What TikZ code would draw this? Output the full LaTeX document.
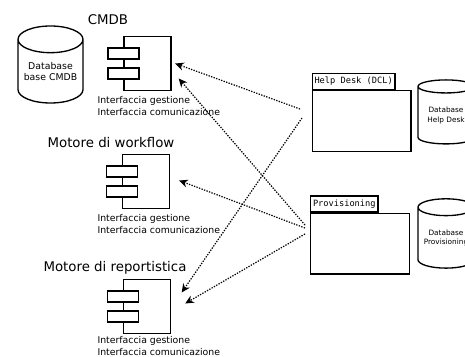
\documentclass[tikz,border=0pt]{standalone}
\usepackage{fontspec}
\setmainfont{DejaVu Sans}
\setmonofont{DejaVu Sans Mono}
\usetikzlibrary{shapes.geometric,arrows.meta}

\tikzset{every picture/.style={line width=0.75pt}}
\tikzset{
  comp/.style={draw, line width=1pt, minimum width=35.25pt, minimum height=40.5pt, inner sep=0pt},
  port/.style={draw, fill=white, line width=1pt, minimum width=23.25pt, minimum height=8.25pt, inner sep=0pt},
  db/.style={cylinder, shape border rotate=90, draw, line width=1pt, align=center, inner sep=0pt},
  pkg/.style={draw, line width=1pt, minimum width=74pt, minimum height=45.5pt, inner sep=0pt},
  tab/.style={draw, line width=1pt, anchor=south west, font=\ttfamily\fontsize{6.5}{7}\selectfont, inner xsep=1.75pt, inner ysep=0pt, minimum height=12pt},
  title/.style={font=\fontsize{10}{12}\selectfont, inner sep=0pt},
  iface/.style={anchor=west, align=left, font=\fontsize{7}{9}\selectfont, inner sep=0pt},
  link/.style={line width=0.9pt, dash pattern=on 1pt off 1pt, -{Stealth[length=6.5pt,width=6pt]}}
}

\begin{document}
\begin{tikzpicture}[x=0.75pt,y=0.75pt,yscale=-1,xscale=1]
        \clip (0,0) rectangle (465,357);

        % CMDB
        \node[title] (tcmdb) at (108,20) {CMDB};
        \node[db, minimum width=48.75pt, minimum height=57.75pt, aspect=0.5, font=\fontsize{7}{8.5}\selectfont] (dbcmdb) at (50.5,71.5) {Database\\base CMDB};
        \node[comp] (cmdb) at (147.5,63.5) {};
        \node[port] (cmdbp1) at ([yshift=7.5pt]cmdb.west) {};
        \node[port] (cmdbp2) at ([yshift=-7.5pt]cmdb.west) {};
        \node[iface] (icmdb) at (97,106) {Interfaccia gestione\\Interfaccia comunicazione};

        % Motore di workflow
        \node[title] (twf) at (111,143) {Motore di workflow};
        \node[comp] (wf) at (146,181.5) {};
        \node[port] (wfp1) at ([yshift=7.5pt]wf.west) {};
        \node[port] (wfp2) at ([yshift=-7.5pt]wf.west) {};
        \node[iface] (iwf) at (97,224.5) {Interfaccia gestione\\Interfaccia comunicazione};

        % Motore di reportistica
        \node[title] (trep) at (115,268) {Motore di reportistica};
        \node[comp] (rep) at (147,306.5) {};
        \node[port] (repp1) at ([yshift=7.5pt]rep.west) {};
        \node[port] (repp2) at ([yshift=-7.5pt]rep.west) {};
        \node[iface] (irep) at (97,346) {Interfaccia gestione\\Interfaccia comunicazione};

        % Help Desk
        \node[pkg] (hd) at (361.5,121) {};
        \node[tab] (hdtab) at (hd.north west) {Help Desk (DCL)};
        \node[db, minimum width=42pt, minimum height=48pt, aspect=0.35, font=\fontsize{5.5}{6.8}\selectfont] (dbhd) at (446,115.5) {Database\\Help Desk};

        % Provisioning
        \node[pkg] (prov) at (360,243.5) {};
        \node[tab] (provtab) at (prov.north west) {Provisioning};
        \node[db, minimum width=42pt, minimum height=52pt, aspect=0.38, font=\fontsize{5.5}{6.8}\selectfont] (dbprov) at (446,238) {Database\\Provisioning};

        % links
        \coordinate (hdA) at (300,109);
        \coordinate (hdB) at (302,118);
        \coordinate (prA) at (305,225);
        \coordinate (prB) at (305,228);
        \coordinate (prC) at (305,234);
        \draw[link] (hdA) -- ([shift={(3.5,0)}]cmdb.east);
        \draw[link] (prA) -- ([shift={(7,15)}]cmdb.east);
        \draw[link] (prB) -- ([shift={(9,-1)}]wf.east);
        \draw[link] (hdB) -- ([shift={(10.5,-14)}]rep.east);
        \draw[link] (prC) -- ([shift={(14,-3)}]rep.east);

\end{tikzpicture}
\end{document}
